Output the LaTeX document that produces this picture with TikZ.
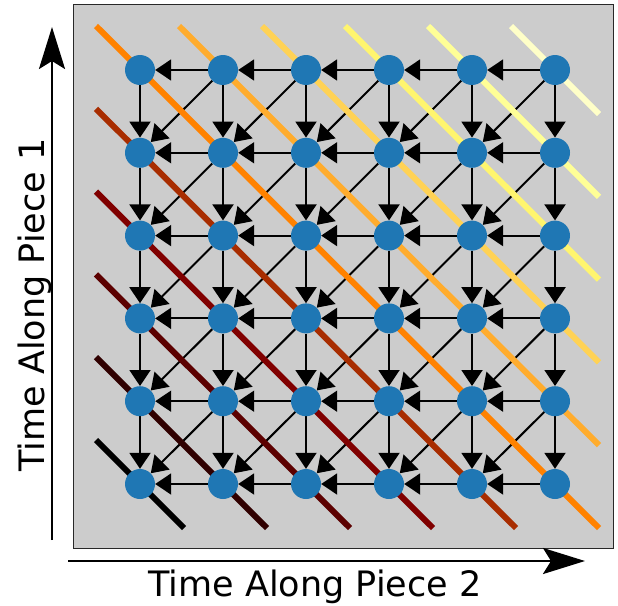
\documentclass[tikz,border=0pt]{standalone}
\usepackage{fontspec}
\setmainfont{DejaVu Sans}
\usetikzlibrary{arrows.meta}
\pgfdeclarelayer{edgelayer}
\pgfdeclarelayer{linelayer}
\pgfsetlayers{edgelayer,linelayer,main}
\definecolor{dotblue}{RGB}{31,119,180}
\definecolor{panelgray}{RGB}{204,204,204}
\definecolor{paneledge}{RGB}{40,40,40}
\definecolor{cA}{RGB}{0,0,0}
\definecolor{cB}{RGB}{48,0,0}
\definecolor{cC}{RGB}{92,0,0}
\definecolor{cD}{RGB}{128,0,0}
\definecolor{cE}{RGB}{168,45,0}
\definecolor{cF}{RGB}{255,130,0}
\definecolor{cG}{RGB}{255,172,45}
\definecolor{cH}{RGB}{255,210,85}
\definecolor{cI}{RGB}{255,245,110}
\definecolor{cJ}{RGB}{255,255,150}
\definecolor{cK}{RGB}{255,255,200}
\begin{document}
\begin{tikzpicture}[x=1pt,y=-1pt,
  dot/.style={circle,fill=dotblue,minimum size=30pt,inner sep=0pt},
  edgearrow/.style={-{Triangle[length=16pt,width=21pt]},line width=2pt,black},
  diagline/.style={line width=6pt},
  axisarrow/.style={-{Stealth[length=42pt,width=26pt,inset=8pt]},line width=2.5pt,black},
  lbl/.style={font=\fontsize{35}{42}\selectfont}]
\useasboundingbox (0,0) rectangle (618,605);
% nodes
\foreach \r in {0,...,5}{
  \foreach \c in {0,...,5}{
    \node[dot] (n\r\c) at ({140+83*\c},{70+82.8*\r}) {};
  }
}
\begin{pgfonlayer}{edgelayer}
  \draw[fill=panelgray,draw=paneledge,line width=1pt] (73,4) rectangle (613,548);
  % horizontal edges
  \foreach \r in {0,...,5}{
    \foreach \c in {0,...,4}{
      \pgfmathtruncatemacro\cn{\c+1}
      \draw[edgearrow] (n\r\cn) -- (n\r\c);
    }
  }
  % vertical edges
  \foreach \r in {0,...,4}{
    \foreach \c in {0,...,5}{
      \pgfmathtruncatemacro\rn{\r+1}
      \draw[edgearrow] (n\r\c) -- (n\rn\c);
    }
  }
  % diagonal edges
  \foreach \r in {0,...,4}{
    \foreach \c in {0,...,4}{
      \pgfmathtruncatemacro\rn{\r+1}
      \pgfmathtruncatemacro\cn{\c+1}
      \draw[edgearrow] (n\r\cn) -- (n\rn\c);
    }
  }
\end{pgfonlayer}
\begin{pgfonlayer}{linelayer}
  \foreach \a/\b/\col in {50/50/cA,40/51/cB,30/52/cC,20/53/cD,10/54/cE,00/55/cF,01/45/cG,02/35/cH,03/25/cI,04/15/cJ,05/05/cK}{
    \draw[diagline,draw=\col] ([shift={(-44,-44)}]n\a.center) -- ([shift={(44,44)}]n\b.center);
  }
\end{pgfonlayer}
% axes
\coordinate (ybot) at (52,540);
\coordinate (ytop) at (52,27);
\coordinate (xleft) at (68,561);
\coordinate (xright) at (585,561);
\draw[axisarrow] (ybot) -- (ytop);
\draw[axisarrow] (xleft) -- (xright);
\node[lbl,rotate=90,anchor=base] (ylab) at (44,305) {Time Along Piece 1};
\node[lbl,anchor=base] (xlab) at (315,596) {Time Along Piece 2};
\end{tikzpicture}
\end{document}
